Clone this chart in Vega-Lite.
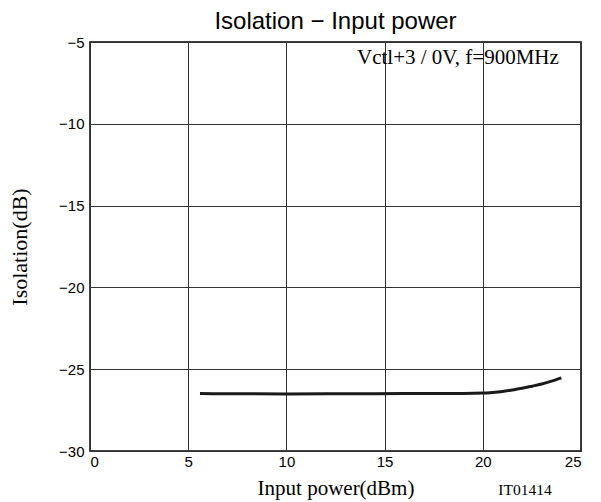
{
  "$schema": "https://vega.github.io/schema/vega-lite/v6.json",
  "autosize": "none",
  "width": 491,
  "height": 409,
  "padding": {"left": 90, "top": 42, "right": 20, "bottom": 51},
  "background": "white",
  "title": {
    "text": "Isolation  \u2212  Input power",
    "font": "Liberation Sans",
    "fontSize": 24,
    "fontWeight": "normal",
    "color": "black",
    "offset": 1
  },
  "config": {
    "view": {"stroke": "black", "strokeWidth": 1.5},
    "axis": {
      "grid": true,
      "gridColor": "#333",
      "gridWidth": 1,
      "domain": false,
      "ticks": false,
      "labelFont": "Liberation Sans",
      "labelFontSize": 15,
      "labelColor": "black",
      "titleFont": "Liberation Serif",
      "titleFontSize": 21,
      "titleFontWeight": "normal",
      "titleColor": "black"
    }
  },
  "datasets": {
    "curve": [
      {"p": 5.6, "iso": -26.49},
      {"p": 7, "iso": -26.5},
      {"p": 10, "iso": -26.51},
      {"p": 13, "iso": -26.5},
      {"p": 16, "iso": -26.49},
      {"p": 19, "iso": -26.48},
      {"p": 20, "iso": -26.46},
      {"p": 20.5, "iso": -26.42},
      {"p": 21, "iso": -26.36},
      {"p": 21.5, "iso": -26.27},
      {"p": 22, "iso": -26.17},
      {"p": 22.5, "iso": -26.04},
      {"p": 23, "iso": -25.9},
      {"p": 23.5, "iso": -25.73},
      {"p": 24, "iso": -25.53}
    ],
    "notes": [
      {"label": "Vctl+3 / 0V, f=900MHz", "p": 23.87, "iso": -5.98}
    ],
    "code": [
      {"label": "IT01414", "p": 22.15, "iso": -32.4}
    ]
  },
  "layer": [
    {
      "data": {"name": "curve"},
      "mark": {"type": "line", "color": "#1a1a1a", "strokeWidth": 3, "interpolate": "monotone"},
      "encoding": {
        "x": {
          "field": "p", "type": "quantitative",
          "scale": {"domain": [0, 25], "nice": false},
          "axis": {"values": [0, 5, 10, 15, 20, 25], "title": "Input power(dBm)", "labelPadding": 3, "titlePadding": 8}
        },
        "y": {
          "field": "iso", "type": "quantitative",
          "scale": {"domain": [-30, -5], "nice": false, "zero": false},
          "axis": {"values": [-30, -25, -20, -15, -10, -5], "title": "Isolation(dB)", "titleFontSize": 22, "labelPadding": 6, "titlePadding": 27}
        }
      }
    },
    {
      "data": {"name": "notes"},
      "mark": {"type": "text", "font": "Liberation Serif", "fontSize": 21, "fontWeight": "normal", "align": "right", "baseline": "middle", "color": "black"},
      "encoding": {
        "x": {"field": "p", "type": "quantitative"},
        "y": {"field": "iso", "type": "quantitative"},
        "text": {"field": "label"}
      }
    },
    {
      "data": {"name": "code"},
      "mark": {"type": "text", "font": "Liberation Serif", "fontSize": 15.5, "fontWeight": "normal", "align": "center", "baseline": "middle", "color": "black", "clip": false},
      "encoding": {
        "x": {"field": "p", "type": "quantitative"},
        "y": {"field": "iso", "type": "quantitative"},
        "text": {"field": "label"}
      }
    }
  ]
}
